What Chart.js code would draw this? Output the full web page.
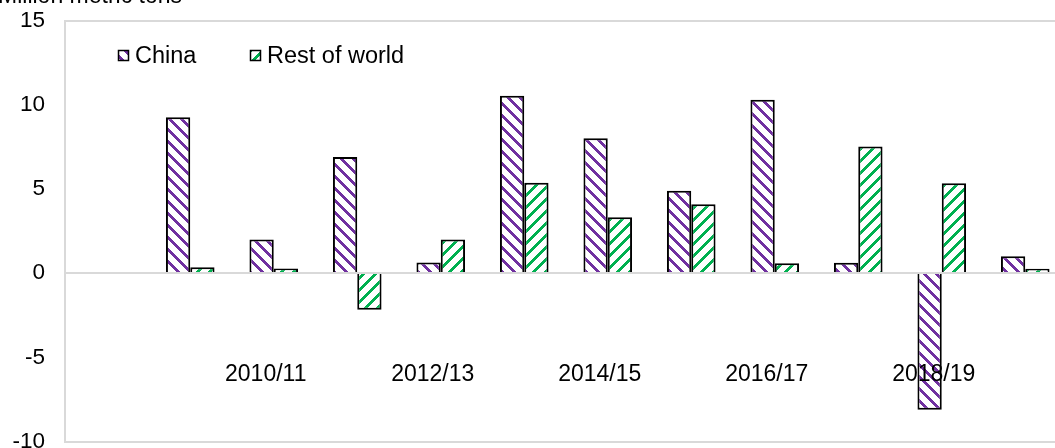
<!DOCTYPE html>
<html>
<head>
<meta charset="utf-8">
<script src="https://cdn.jsdelivr.net/npm/chart.js@4/dist/chart.umd.min.js"></script>
<style>
  html, body { margin: 0; padding: 0; background: #fff; overflow: hidden; }
  #wrap { width: 1067px; height: 488px; margin-top: -13px; }
</style>
</head>
<body>
<div id="wrap"><canvas id="chart" width="1067" height="488"></canvas></div>
<script>
// Data (million metric tons)
const seasons = ['2008/09', '2009/10', '2010/11', '2011/12', '2012/13', '2013/14',
                 '2014/15', '2015/16', '2016/17', '2017/18', '2018/19', '2019/20'];
const china = [null, 9.26, 2.0, 6.9, 0.63, 10.53, 8.01, 4.89, 10.29, 0.61, -8.12, 1.0];
const restOfWorld = [null, 0.35, 0.27, -2.18, 2.0, 5.36, 3.32, 4.09, 0.59, 7.52, 5.34, 0.26];
const yTicks = [-10, -5, 0, 5, 10, 15];

const FONT = '"Liberation Sans", Arial, sans-serif';
const GRID = '#d9d9d9';
const SHIFT = 13; // canvas is pulled up by this much in the page

// Excel-like hatch fill: white tile with a diagonal stripe
function hatch(color, downward) {
    const size = 12;
    const c = document.createElement('canvas');
    c.width = size; c.height = size;
    const g = c.getContext('2d');
    g.fillStyle = '#fff';
    g.fillRect(0, 0, size, size);
    g.fillStyle = color;
    for (let y = 0; y < size; y++) {
        for (let x = 0; x < size; x++) {
            const d = downward ? (x - y) : (x + y);
            if (((d % size) + size) % size < 4) g.fillRect(x, y, 1, 1);
        }
    }
    return g.createPattern(c, 'repeat');
}

const ctx = document.getElementById('chart').getContext('2d');
const chinaFill = hatch('#7030A0', true);
const rowFill = hatch('#00B050', false);

// Title (cut off at top) and the legend inside the plot
const extras = {
    id: 'extras',
    afterDraw(chart) {
        const c = chart.ctx;
        c.save();
        c.fillStyle = '#000';
        c.font = '23px ' + FONT;
        c.textBaseline = 'alphabetic';
        c.textAlign = 'left';
        c.fillText('Million metric tons', -2, 3 + SHIFT);

        const items = [
            { label: 'China', fill: chinaFill, x: 118 },
            { label: 'Rest of world', fill: rowFill, x: 250 }
        ];
        c.font = '23.5px ' + FONT;
        c.textBaseline = 'middle';
        items.forEach(it => {
            const y = 50 + SHIFT;
            c.fillStyle = it.fill;
            c.fillRect(it.x, y, 11, 11);
            c.strokeStyle = '#000';
            c.lineWidth = 1.5;
            c.strokeRect(it.x + 0.5, y + 0.5, 10, 10);
            c.fillStyle = '#000';
            c.fillText(it.label, it.x + 17, y + 6.5);
        });
        c.restore();
    }
};

new Chart(ctx, {
    type: 'bar',
    data: {
        labels: seasons,
        datasets: [
            {
                label: 'China',
                data: china,
                backgroundColor: chinaFill,
                borderColor: '#000',
                borderWidth: 2
            },
            {
                label: 'Rest of world',
                data: restOfWorld,
                backgroundColor: rowFill,
                borderColor: '#000',
                borderWidth: 2
            }
        ]
    },
    options: {
        responsive: false,
        animation: false,
        layout: { padding: { top: 20, bottom: 14, left: 0, right: 0 } },
        datasets: {
            bar: { categoryPercentage: 0.582, barPercentage: 1 }
        },
        plugins: {
            legend: { display: false },
            tooltip: { enabled: false }
        },
        scales: {
            x: {
                position: { y: -4.65 },
                grid: { display: false },
                border: { display: false },
                ticks: {
                    z: 1, // labels sit on top of the bars
                    autoSkip: false,
                    maxRotation: 0,
                    padding: 1,
                    labelOffset: -8,
                    color: '#000',
                    font: { family: FONT, size: 23 },
                    callback: (v, i) => (i > 0 && i % 2 === 0) ? seasons[i] : ''
                }
            },
            y: {
                min: yTicks[0],
                max: yTicks[yTicks.length - 1],
                afterBuildTicks: s => { s.ticks = yTicks.map(v => ({ value: v })); },
                afterFit: s => { s.width = 65; },
                grid: {
                    drawTicks: false,
                    lineWidth: 2,
                    color: c => (c.tick && (c.tick.value === 0 || c.tick.value === 15 || c.tick.value === -10)) ? GRID : 'rgba(0,0,0,0)'
                },
                border: { display: true, color: GRID, width: 2 },
                ticks: {
                    padding: 20,
                    color: '#000',
                    font: { family: FONT, size: 22.5 }
                }
            }
        }
    },
    plugins: [extras]
});
</script>
</body>
</html>
